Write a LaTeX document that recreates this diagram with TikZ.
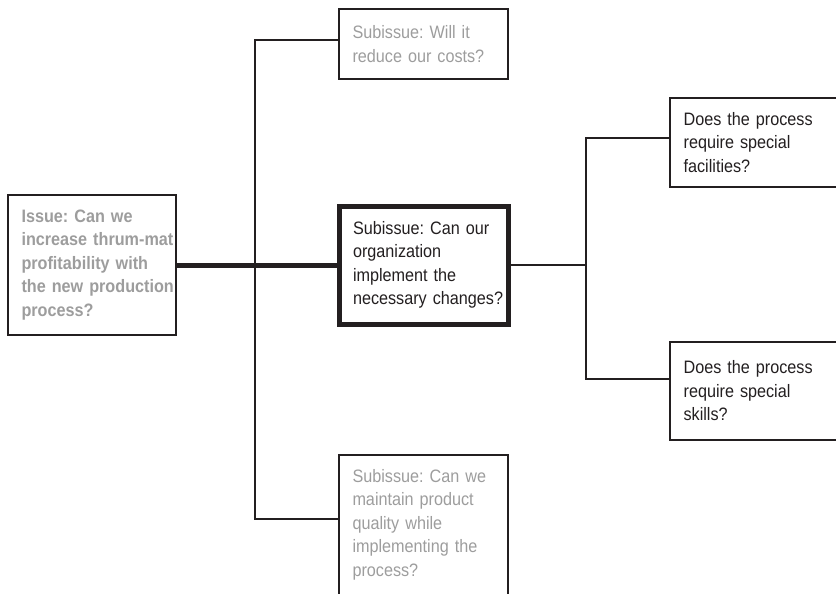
\documentclass[tikz,border=0pt]{standalone}
\usepackage{fontspec}
\setmainfont{Liberation Sans}[FakeStretch=0.9]
\usetikzlibrary{calc}
\definecolor{ink}{HTML}{231F20}
\definecolor{mute}{HTML}{9D9D9D}
\begin{document}
\begin{tikzpicture}[x=1pt,y=-1pt,
  every node/.style={font=\fontsize{18}{23.5}\selectfont},
  box/.style={draw=ink, line width=2.2pt, align=left, inner xsep=0pt,
    inner ysep=0pt, minimum width=169pt, text width=169pt, anchor=center,
    execute at begin node={\leftskip=13.5pt\relax\hyphenpenalty=10000
      \exhyphenpenalty=10000\frenchspacing}},
  sidebox/.style={box, minimum width=200pt, text width=200pt},
  conn/.style={draw=ink, line width=2pt},
  trunkline/.style={draw=ink, line width=5pt}]
\useasboundingbox (0,0) rectangle (836,594);
\clip (0,0) rectangle (836,594);

% main issue
\node[box, minimum width=168pt, text width=168pt, minimum height=140pt,
  text=mute, font=\fontsize{18}{23.5}\selectfont\bfseries] (issue) at (92,265)
  {Issue: Can we\\increase thrum-mat\\profitability with\\the new production\\process?};

% subissues
\node[box, minimum height=70pt, text=mute] (s1) at (423.5,44)
  {Subissue: Will it\\reduce our costs?};
\node[box, line width=5pt, minimum height=118pt, text=ink] (s2) at (424,265)
  {Subissue: Can our\\organization\\implement the\\necessary changes?};
\node[box, anchor=north, inner ysep=14pt, text=mute] (s3) at (423.5,454)
  {Subissue: Can we\\maintain product\\quality while\\implementing the\\process?\par\vspace*{24pt}};

% questions under the second subissue
\node[sidebox, minimum height=89pt, text=ink, anchor=west] (r1) at (669,142.5)
  {Does the process\\require special\\facilities?};
\node[sidebox, minimum height=98pt, text=ink, anchor=west] (r2) at (669,391)
  {Does the process\\require special\\skills?};

% branching points
\coordinate (hub) at (255,265);
\coordinate (fork) at (586,265);

% connectors
\draw[trunkline] (issue.east) -- (s2.west);
\draw[conn] ($(s1.north west)+(0,32)$) -| (hub) |- ($(s3.north west)+(0,65)$);
\draw[conn] (s2.east) -- (fork);
\draw[conn] ($(r1.north west)+(0,41)$) -| (fork) |- ($(r2.north west)+(0,38)$);
\end{tikzpicture}
\end{document}
